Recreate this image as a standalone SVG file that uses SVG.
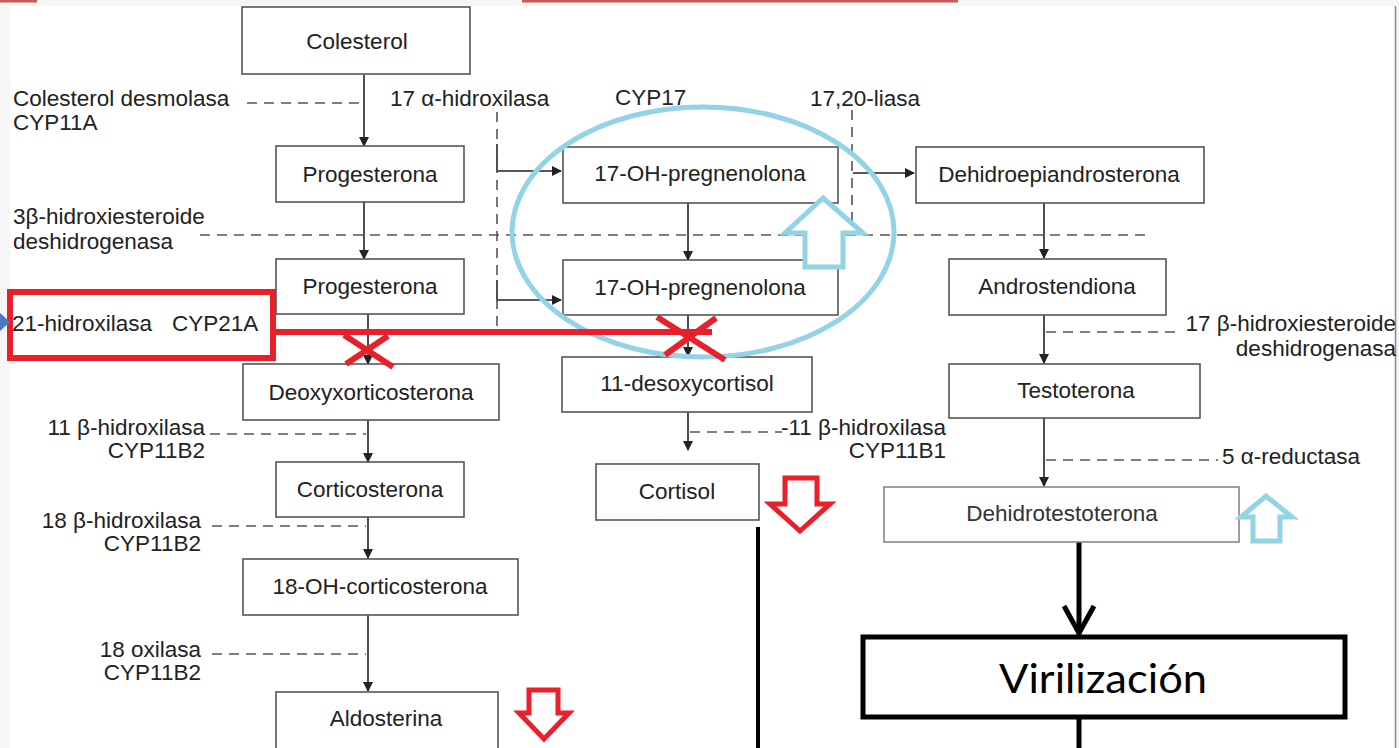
<svg xmlns="http://www.w3.org/2000/svg" width="1399" height="748" viewBox="0 0 1399 748">
<defs>
<style>
.box{fill:#fff;stroke:#555;stroke-width:1.6}
.nt{font-family:"Liberation Sans",Arial,sans-serif;font-size:22.5px;fill:#222;text-anchor:middle}
.lb{font-family:"Liberation Sans",Arial,sans-serif;font-size:22.5px;fill:#222}
.end{text-anchor:end}
.dash{stroke:#555;stroke-width:1.6;stroke-dasharray:10 7;fill:none}
.arr{stroke:#222;stroke-width:1.6;fill:none;marker-end:url(#ah)}
.red{stroke:#e8202a;stroke-width:6;fill:none}
.redarr{stroke:#e8202a;stroke-width:5;fill:#fff;stroke-linejoin:miter}
.blue{stroke:#93d3e6;stroke-width:5;fill:none}
.bluearr{stroke:#93d3e6;stroke-width:5;fill:#fff}
.thick{stroke:#000;stroke-width:5;fill:none}
</style>
<marker id="ah" markerWidth="10" markerHeight="12" refX="9" refY="6" orient="auto" markerUnits="userSpaceOnUse">
<path d="M0,1 L10,6 L0,11 Z" fill="#222"/>
</marker>
</defs>

<!-- background -->
<rect x="0" y="0" width="1399" height="748" fill="#f6f6f6"/>
<rect x="10" y="6" width="1385" height="742" fill="#fff"/>
<rect x="0" y="0" width="37" height="2.5" fill="#c85a5a"/>
<rect x="522" y="0" width="436" height="2.5" fill="#c85a5a"/>
<line x1="1395.5" y1="6" x2="1395.5" y2="748" stroke="#888" stroke-width="1.5"/>

<!-- connectors -->
<g id="connectors">
  <line class="arr" x1="364" y1="75" x2="364" y2="146"/>
  <line class="arr" x1="364" y1="202" x2="364" y2="259"/>
  <line class="arr" x1="368" y1="314" x2="368" y2="364"/>
  <line class="arr" x1="368" y1="420" x2="368" y2="462"/>
  <line class="arr" x1="368" y1="517" x2="368" y2="558"/>
  <line class="arr" x1="368" y1="615" x2="368" y2="691"/>
  <line class="arr" x1="688" y1="203" x2="688" y2="260"/>
  <line class="arr" x1="688" y1="315" x2="688" y2="356"/>
  <line class="arr" x1="688" y1="412" x2="688" y2="450"/>
  <line class="arr" x1="1044" y1="203" x2="1044" y2="258"/>
  <line class="arr" x1="1044" y1="315" x2="1044" y2="363"/>
  <line class="arr" x1="1044" y1="418" x2="1044" y2="486"/>
  <polyline class="arr" points="497,144 497,171 561,171"/>
  <polyline class="arr" points="497,280 497,300 561,300"/>
  <line class="arr" x1="853" y1="173" x2="914" y2="173"/>
  <!-- dashed enzyme lines -->
  <line class="dash" x1="247" y1="103" x2="362" y2="103"/>
  <line class="dash" x1="497" y1="112" x2="497" y2="330"/>
  <line class="dash" x1="852" y1="110" x2="852" y2="234"/>
  <line class="dash" x1="200" y1="235" x2="1148" y2="235"/>
  <line class="dash" x1="210" y1="434" x2="366" y2="434"/>
  <line class="dash" x1="212" y1="526" x2="366" y2="526"/>
  <line class="dash" x1="212" y1="654" x2="366" y2="654"/>
  <line class="dash" x1="690" y1="432" x2="782" y2="432"/>
  <line class="dash" x1="1046" y1="332" x2="1176" y2="332"/>
  <line class="dash" x1="1046" y1="460" x2="1218" y2="460"/>
  <!-- thick connectors -->
  <line class="thick" x1="758" y1="527" x2="758" y2="748" style="stroke-width:4"/>
  <line class="thick" x1="1079" y1="542" x2="1079" y2="634"/>
  <polyline class="thick" points="1064,606 1079,633 1094,606"/>
  <line class="thick" x1="1079" y1="717" x2="1079" y2="748"/>
</g>

<!-- labels -->
<g id="labels">
  <text class="lb" x="13" y="106">Colesterol desmolasa</text>
  <text class="lb" x="13" y="130">CYP11A</text>
  <text class="lb" x="390" y="106">17 α-hidroxilasa</text>
  <text class="lb" x="615" y="105">CYP17</text>
  <text class="lb" x="810" y="106">17,20-liasa</text>
  <text class="lb" x="13" y="224">3β-hidroxiesteroide</text>
  <text class="lb" x="13" y="249">deshidrogenasa</text>
  <text class="lb end" x="205" y="435">11 β-hidroxilasa</text>
  <text class="lb end" x="205" y="458">CYP11B2</text>
  <text class="lb end" x="201" y="528">18 β-hidroxilasa</text>
  <text class="lb end" x="201" y="551">CYP11B2</text>
  <text class="lb end" x="201" y="657">18 oxilasa</text>
  <text class="lb end" x="201" y="680">CYP11B2</text>
  <text class="lb" x="781" y="435">-11 β-hidroxilasa</text>
  <text class="lb end" x="946" y="458">CYP11B1</text>
  <text class="lb end" x="1396" y="331">17 β-hidroxiesteroide</text>
  <text class="lb end" x="1396" y="356">deshidrogenasa</text>
  <text class="lb" x="1222" y="464">5 α-reductasa</text>
</g>

<!-- nodes -->
<g id="colesterol"><rect class="box" x="242" y="7" width="228" height="67"/><text class="nt" x="357" y="49">Colesterol</text></g>
<g id="progesterona1"><rect class="box" x="276" y="146" width="188" height="56"/><text class="nt" x="370" y="182">Progesterona</text></g>
<g id="progesterona2"><rect class="box" x="276" y="259" width="188" height="55"/><text class="nt" x="370" y="294">Progesterona</text></g>
<g id="deoxy"><rect class="box" x="243" y="364" width="256" height="56"/><text class="nt" x="371" y="400">Deoxyxorticosterona</text></g>
<g id="corticosterona"><rect class="box" x="276" y="462" width="188" height="55"/><text class="nt" x="370" y="497">Corticosterona</text></g>
<g id="oh18"><rect class="box" x="243" y="559" width="275" height="56"/><text class="nt" x="380" y="594">18-OH-corticosterona</text></g>
<g id="aldosterina"><rect class="box" x="276" y="692" width="222" height="60"/><text class="nt" x="386" y="726">Aldosterina</text></g>
<g id="oh17a"><rect class="box" x="563" y="147" width="275" height="56"/><text class="nt" x="700" y="181">17-OH-pregnenolona</text></g>
<g id="oh17b"><rect class="box" x="563" y="260" width="275" height="55"/><text class="nt" x="700" y="295">17-OH-pregnenolona</text></g>
<g id="desoxycortisol"><rect class="box" x="562" y="357" width="250" height="55"/><text class="nt" x="687" y="391">11-desoxycortisol</text></g>
<g id="cortisol"><rect class="box" x="596" y="464" width="163" height="56"/><text class="nt" x="677" y="499">Cortisol</text></g>
<g id="dhea"><rect class="box" x="916" y="147" width="288" height="56"/><text class="nt" x="1059" y="182">Dehidroepiandrosterona</text></g>
<g id="androstendiona"><rect class="box" x="949" y="259" width="217" height="56"/><text class="nt" x="1057" y="294">Androstendiona</text></g>
<g id="testoterona"><rect class="box" x="949" y="364" width="251" height="54"/><text class="nt" x="1076" y="398">Testoterona</text></g>
<g id="dht"><rect class="box" x="884" y="487" width="355" height="55" style="stroke:#888"/><text class="nt" x="1062" y="521" style="fill:#333">Dehidrotestoterona</text></g>
<g id="virilizacion"><rect x="863" y="637" width="482" height="80" fill="#fff" stroke="#000" stroke-width="5"/><text x="1103" y="693" font-family="Lato,'Open Sans',sans-serif" font-size="40" fill="#000" text-anchor="middle" textLength="208" lengthAdjust="spacingAndGlyphs">Virilización</text></g>

<!-- annotations -->
<g id="annotations">
  <ellipse class="blue" cx="703" cy="232" rx="191" ry="125"/>
  <polygon class="bluearr" points="823,198 863,233 843,233 843,267 805,267 805,233 785,233"/>
  <polygon class="bluearr" points="1266,496 1292,517 1280,517 1280,541 1253,541 1253,517 1241,517"/>
  <rect x="10" y="292" width="263" height="66" fill="none" stroke="#e8202a" stroke-width="6"/>
  <text class="lb" x="12" y="331">21-hidroxilasa</text>
  <text class="lb" x="172" y="331">CYP21A</text>
  <polygon points="0,313 10,322 0,331" fill="#4a78c0"/>
  <line class="red" x1="273" y1="332" x2="712" y2="332"/>
  <line class="red" x1="344" y1="335" x2="393" y2="367"/>
  <line class="red" x1="388" y1="336" x2="346" y2="364"/>
  <line class="red" x1="657" y1="317" x2="725" y2="360"/>
  <line class="red" x1="716" y1="318" x2="665" y2="355"/>
  <polygon class="redarr" points="785,478 817,478 817,504 830,504 800,531 770,504 785,504"/>
  <polygon class="redarr" points="529,690 558,690 558,713 569,713 544,739 519,713 529,713"/>
</g>
</svg>
